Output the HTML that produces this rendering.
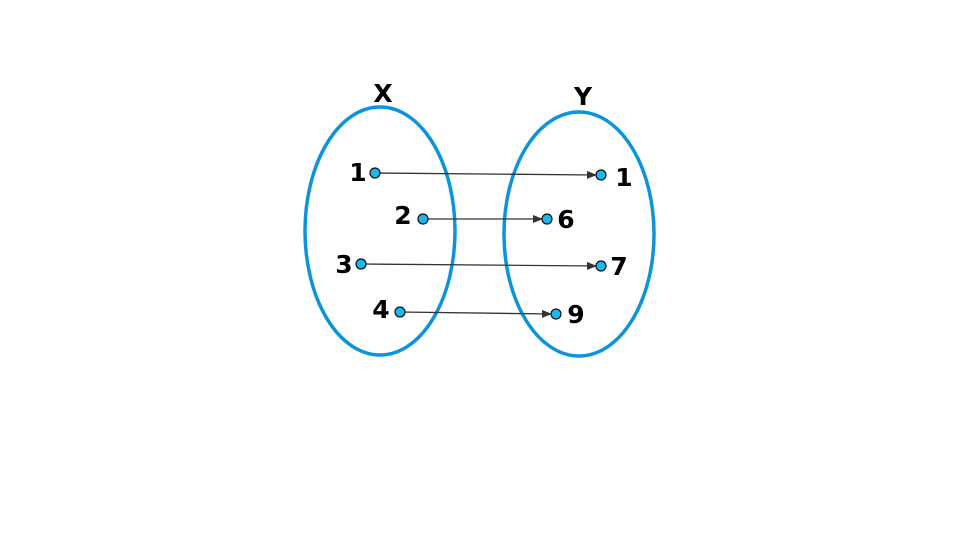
<!DOCTYPE html>
<html><head><style>body{margin:0;background:#fff}svg{display:block}</style></head><body>
<svg width="960" height="540" viewBox="0 0 960 540" xmlns="http://www.w3.org/2000/svg">
<defs><marker id="a" markerWidth="10" markerHeight="8" refX="9" refY="4" orient="auto" markerUnits="userSpaceOnUse"><path d="M0,0 L10,4 L0,8 z" fill="#333"/></marker></defs>
<ellipse cx="380" cy="231" rx="75" ry="124" fill="none" stroke="#0b93dc" stroke-width="3.5"/>
<ellipse cx="579" cy="234" rx="75" ry="122" fill="none" stroke="#0b93dc" stroke-width="3.5"/>
<g font-family="DejaVu Sans, sans-serif" font-weight="bold" font-size="25" fill="#000" text-anchor="middle">
<text x="383" y="102">X</text><text x="583" y="105">Y</text>
<text x="358" y="181">1</text><text x="403" y="224">2</text><text x="344" y="273">3</text><text x="381" y="318">4</text>
<text x="624" y="186">1</text><text x="566" y="228">6</text><text x="619" y="275">7</text><text x="576" y="323">9</text>
</g>
<g stroke="#333" stroke-width="1.3" marker-end="url(#a)">
<line x1="375" y1="173" x2="596" y2="175"/>
<line x1="423" y1="219" x2="542" y2="219"/>
<line x1="361" y1="264" x2="596" y2="266"/>
<line x1="400" y1="312" x2="551" y2="314"/>
</g>
<g fill="#1bb8ec" stroke="#111" stroke-width="1.2">
<circle cx="375" cy="173" r="5"/><circle cx="423" cy="219" r="5"/><circle cx="361" cy="264" r="5"/><circle cx="400" cy="312" r="5"/>
<circle cx="601" cy="175" r="5"/><circle cx="547" cy="219" r="5"/><circle cx="601" cy="266" r="5"/><circle cx="556" cy="314" r="5"/>
</g>
</svg>
</body></html>
